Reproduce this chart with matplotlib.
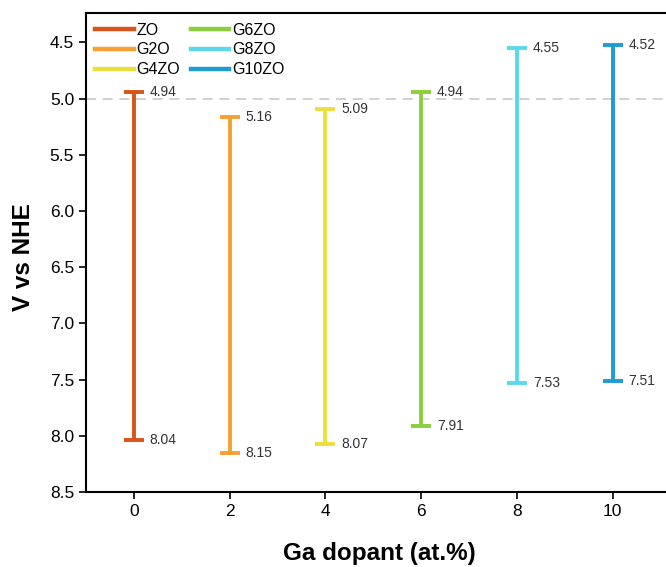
import numpy as np
import matplotlib.pyplot as plt
from matplotlib.lines import Line2D

plt.rcParams['font.family'] = ['Liberation Sans', 'DejaVu Sans']

# data
doping = [0, 2, 4, 6, 8, 10]
names = ['ZO', 'G2O', 'G4ZO', 'G6ZO', 'G8ZO', 'G10ZO']
top = [4.94, 5.16, 5.09, 4.94, 4.55, 4.52]
bottom = [8.04, 8.15, 8.07, 7.91, 7.53, 7.51]
colors = ['#D9541A', '#F5A030', '#EBDF3C', '#8CCF3C', '#5CD8EC', '#1C9CD2']

fig = plt.figure(figsize=(6.66, 5.67), dpi=100)
ax = fig.add_axes([0.129, 0.132, 0.899, 0.845])

ax.axhline(5.0, color='#c8c8c8', ls=(0, (6, 4)), lw=1.2, zorder=0)

for x, t, b, c in zip(doping, top, bottom, colors):
    mid = (t + b) / 2
    ax.errorbar(x, mid, yerr=[[mid - t], [b - mid]], fmt='none', ecolor=c,
                elinewidth=2.8, capsize=7.5, capthick=2.8)
    ax.text(x + 0.33, t, f'{t:.2f}', fontsize=10, color='#333333', va='center')
    ax.text(x + 0.33, b, f'{b:.2f}', fontsize=10, color='#333333', va='center')

ax.set_xlim(-1, 11.5)
ax.set_ylim(8.5, 4.24)
ax.set_xticks(doping)
ax.set_yticks(np.arange(4.5, 8.51, 0.5))
ax.tick_params(labelsize=12.5, width=1.2, length=5)
for s in ax.spines.values():
    s.set_linewidth(1.5)

ax.set_xlabel('Ga dopant (at.%)', fontsize=17.5, fontweight='bold')
ax.xaxis.set_label_coords(0.49, -0.105)
ax.set_ylabel('V vs NHE', fontsize=17.5, fontweight='bold')
ax.yaxis.set_label_coords(-0.085, 0.49)

handles = [Line2D([], [], color=c, lw=3.2) for c in colors]
ax.legend(handles, names, ncol=2, loc='upper left', frameon=False, fontsize=11.5,
          handlelength=2.4, handletextpad=0.15, columnspacing=0.7,
          labelspacing=0.3, borderaxespad=0.2)

plt.savefig('out.png', dpi=100)
